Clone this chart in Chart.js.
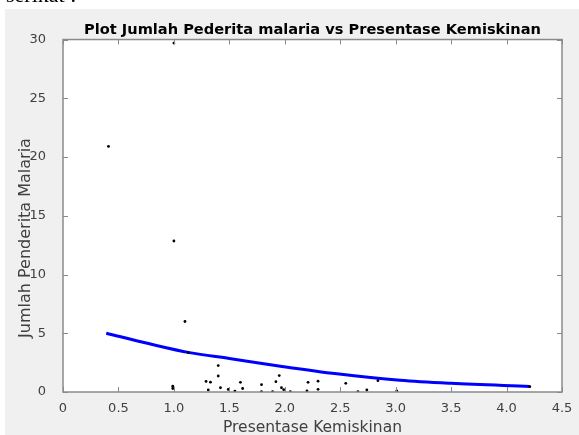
<!DOCTYPE html>
<html>
<head>
<meta charset="utf-8">
<script src="https://cdn.jsdelivr.net/npm/chart.js@4.4.1/dist/chart.umd.min.js"></script>
<style>
  html, body { margin: 0; padding: 0; background: #fff; overflow: hidden; }
  #wrap { position: relative; width: 579px; height: 435px; }
  #note { position: absolute; left: 6px; top: -18px; font: 22px "Liberation Serif", "Times New Roman", serif; color: #000; }
  #malariaChart { position: absolute; left: 0; top: 0; }
</style>
</head>
<body>
<div id="wrap">
  <canvas id="malariaChart" width="579" height="435"></canvas>
  <div id="note">serikat :</div>
</div>
<script>
// Data
const kemiskinan = [0.41, 1.0, 1.0, 1.10, 1.13, 1.40, 1.40, 1.29, 1.33, 1.31, 1.42, 0.99, 0.99, 1.49, 1.55,
  1.60, 1.62, 1.79, 1.79, 1.89, 1.92, 1.95, 1.97, 1.99, 2.05, 2.20, 2.21, 2.30, 2.30, 2.55, 2.66, 2.74,
  2.84, 3.01, 4.21];
const penderita = [20.9, 29.7, 12.85, 6.0, 3.35, 2.25, 1.36, 0.9, 0.84, 0.18, 0.36, 0.5, 0.3, 0.22, 0.08,
  0.82, 0.3, 0.62, 0.03, 0.02, 0.88, 1.4, 0.36, 0.2, 0.03, 0.1, 0.82, 0.92, 0.23, 0.74, 0.03, 0.17,
  0.96, 0.1, 0.45];

// fitted curve
const fitX = [0.39, 0.78, 1.14, 1.5, 1.96, 2.47, 3.04, 3.5, 4.21];
const fitY = [5.0, 4.1, 3.35, 2.85, 2.2, 1.55, 1.0, 0.74, 0.47];

const xTicks = [0, 0.5, 1, 1.5, 2, 2.5, 3, 3.5, 4, 4.5];
const yTicks = [0, 5, 10, 15, 20, 25, 30];

const yLabel = 'Jumlah Penderita Malaria';
const fontFam = '"DejaVu Sans", Arial, sans-serif';

// matlab style figure: grey frame, white axes box, inward ticks
const matlabBox = {
  id: 'matlabBox',
  beforeDraw(chart) {
    const { ctx, chartArea: a } = chart;
    ctx.save();
    ctx.fillStyle = '#f0f0f0';
    ctx.fillRect(5, 9, chart.width - 5, chart.height - 9);
    ctx.fillStyle = '#ffffff';
    ctx.fillRect(a.left, a.top, a.right - a.left, a.bottom - a.top);
    ctx.restore();
  },
  afterDatasetsDraw(chart) {
    const { ctx, chartArea: a, scales } = chart;
    ctx.save();
    ctx.strokeStyle = '#8a8a8a';
    ctx.lineWidth = 1;
    ctx.beginPath();
    xTicks.forEach(v => {
      const px = Math.round(scales.x.getPixelForValue(v)) + 0.5;
      ctx.moveTo(px, a.bottom); ctx.lineTo(px, a.bottom - 5);
      ctx.moveTo(px, a.top); ctx.lineTo(px, a.top + 5);
    });
    yTicks.forEach(v => {
      const py = Math.round(scales.y.getPixelForValue(v)) + 0.5;
      ctx.moveTo(a.left, py); ctx.lineTo(a.left + 5, py);
      ctx.moveTo(a.right, py); ctx.lineTo(a.right - 5, py);
    });
    ctx.stroke();
    ctx.lineWidth = 1.5;
    ctx.strokeRect(a.left, a.top, a.right - a.left, a.bottom - a.top);

    // y axis label (sits a bit below the middle in the original)
    ctx.translate(26, 238);
    ctx.rotate(-Math.PI / 2);
    ctx.fillStyle = '#404040';
    ctx.font = '16px ' + fontFam;
    ctx.textAlign = 'center';
    ctx.textBaseline = 'middle';
    ctx.fillText(yLabel, 0, 0);
    ctx.restore();
  }
};

const ctx = document.getElementById('malariaChart').getContext('2d');
new Chart(ctx, {
  type: 'scatter',
  data: {
    datasets: [
      {
        label: 'data',
        data: kemiskinan.map((x, i) => ({ x: x, y: penderita[i] })),
        pointRadius: 1.4,
        pointBackgroundColor: '#000',
        pointBorderWidth: 0,
        order: 1
      },
      {
        label: 'fit',
        data: fitX.map((x, i) => ({ x: x, y: fitY[i] })),
        showLine: true,
        borderColor: '#0000ff',
        borderWidth: 3,
        pointRadius: 0,
        cubicInterpolationMode: 'monotone',
        order: 2
      }
    ]
  },
  options: {
    responsive: false,
    animation: false,
    layout: { padding: { left: 0, right: 17, top: 9, bottom: 0 } },
    plugins: {
      legend: { display: false },
      tooltip: { enabled: false },
      title: {
        display: true,
        fullSize: false,
        text: 'Plot Jumlah Pederita malaria vs Presentase Kemiskinan',
        color: '#000',
        font: { family: fontFam, size: 14.6, weight: 'bold' },
        padding: { top: 12, bottom: 1 }
      }
    },
    scales: {
      x: {
        type: 'linear',
        min: 0, max: 4.5,
        afterBuildTicks: s => { s.ticks = xTicks.map(v => ({ value: v })); },
        ticks: { color: '#404040', padding: 1, font: { family: fontFam, size: 13 } },
        grid: { display: false },
        border: { display: false },
        title: {
          display: true,
          text: 'Presentase Kemiskinan',
          color: '#404040',
          font: { family: fontFam, size: 15.5 },
          padding: { top: 0, bottom: -2 }
        },
        afterFit: s => { s.height = 43; }
      },
      y: {
        min: 0, max: 30,
        afterBuildTicks: s => { s.ticks = yTicks.map(v => ({ value: v })); },
        ticks: { color: '#404040', padding: 9, font: { family: fontFam, size: 13 } },
        grid: { display: false },
        border: { display: false },
        afterFit: s => { s.width = 63; }
      }
    }
  },
  plugins: [matlabBox]
});
</script>
</body>
</html>
